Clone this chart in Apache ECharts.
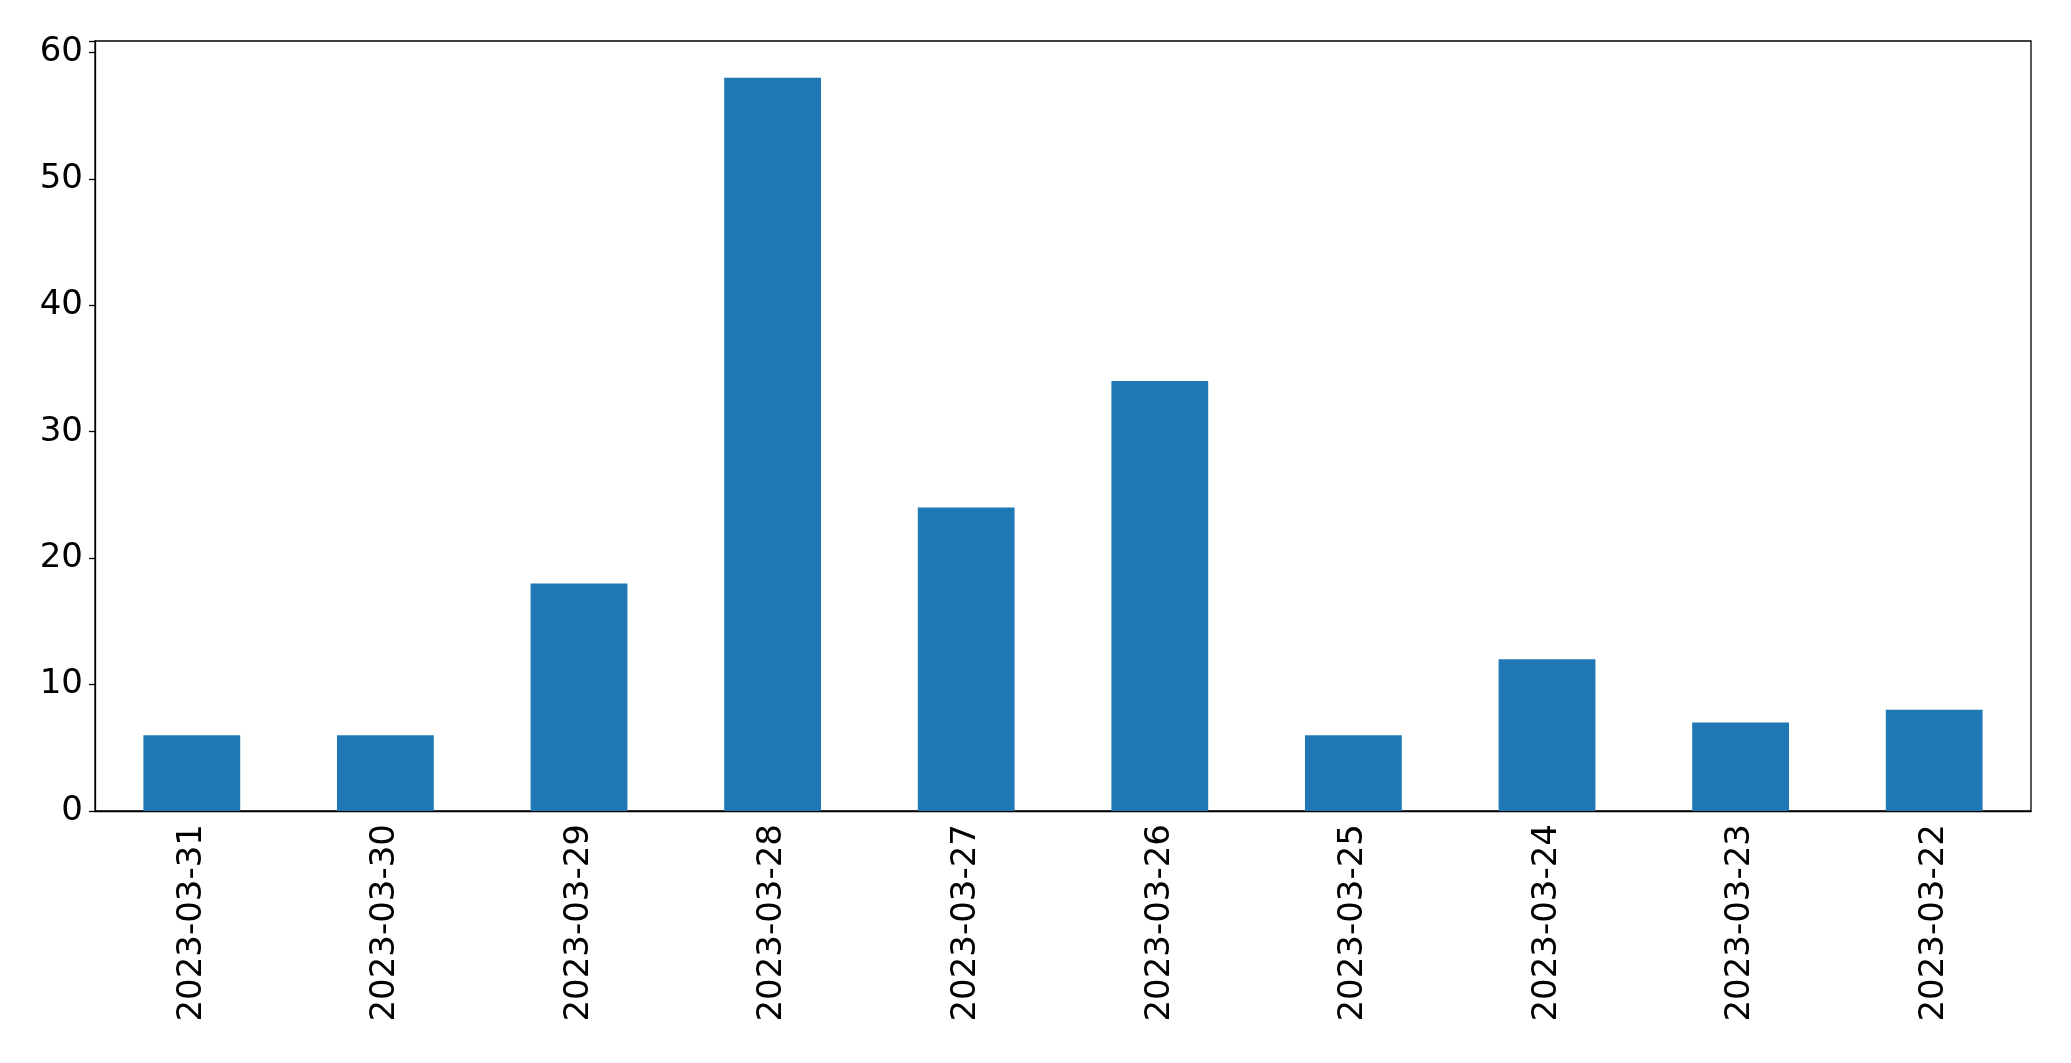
<!DOCTYPE html>
<html>
<head>
<meta charset="utf-8">
<script src="https://cdn.jsdelivr.net/npm/echarts@6/dist/echarts.min.js"></script>
<style>
    html, body { margin: 0; padding: 0; background: #fff; }
    #chart { width: 2071px; height: 1063px; }
</style>
</head>
<body>
<div id="chart"></div>
<script>
const dates = ['2023-03-31', '2023-03-30', '2023-03-29', '2023-03-28', '2023-03-27',
    '2023-03-26', '2023-03-25', '2023-03-24', '2023-03-23', '2023-03-22']
const counts = [6, 6, 18, 58, 24, 34, 6, 12, 7, 8]
const yMax = 60.9

const FONT = 'DejaVu Sans'
const myChart = echarts.init(document.getElementById('chart'))

myChart.setOption({
    animation: false,
    grid: {
        left: 95,
        right: 40,
        top: 41,
        bottom: 252,
        show: true,
        borderColor: '#000',
        borderWidth: 1.3,
        backgroundColor: '#fff'
    },
    xAxis: {
        type: 'category',
        data: dates,
        boundaryGap: true,
        axisLine: { lineStyle: { color: '#000', width: 1.3 } },
        axisTick: { alignWithLabel: true, length: 6, lineStyle: { color: '#000', width: 1.3 } },
        axisLabel: {
            rotate: 90,
            margin: 13,
            color: '#000',
            fontSize: 34,
            fontFamily: FONT
        }
    },
    yAxis: {
        type: 'value',
        min: 0,
        max: yMax,
        interval: 10,
        splitLine: { show: false },
        axisLine: { show: true, lineStyle: { color: '#000', width: 1.3 } },
        axisTick: { show: true, length: 6, lineStyle: { color: '#000', width: 1.3 } },
        axisLabel: {
            margin: 12,
            color: '#000',
            fontSize: 34,
            fontFamily: FONT,
            formatter: v => (v % 10 === 0 ? String(v) : '')
        }
    },
    series: [
        {
            type: 'bar',
            data: counts,
            barWidth: '50%',
            itemStyle: { color: '#1f77b4' }
        }
    ]
})
</script>
</body>
</html>
